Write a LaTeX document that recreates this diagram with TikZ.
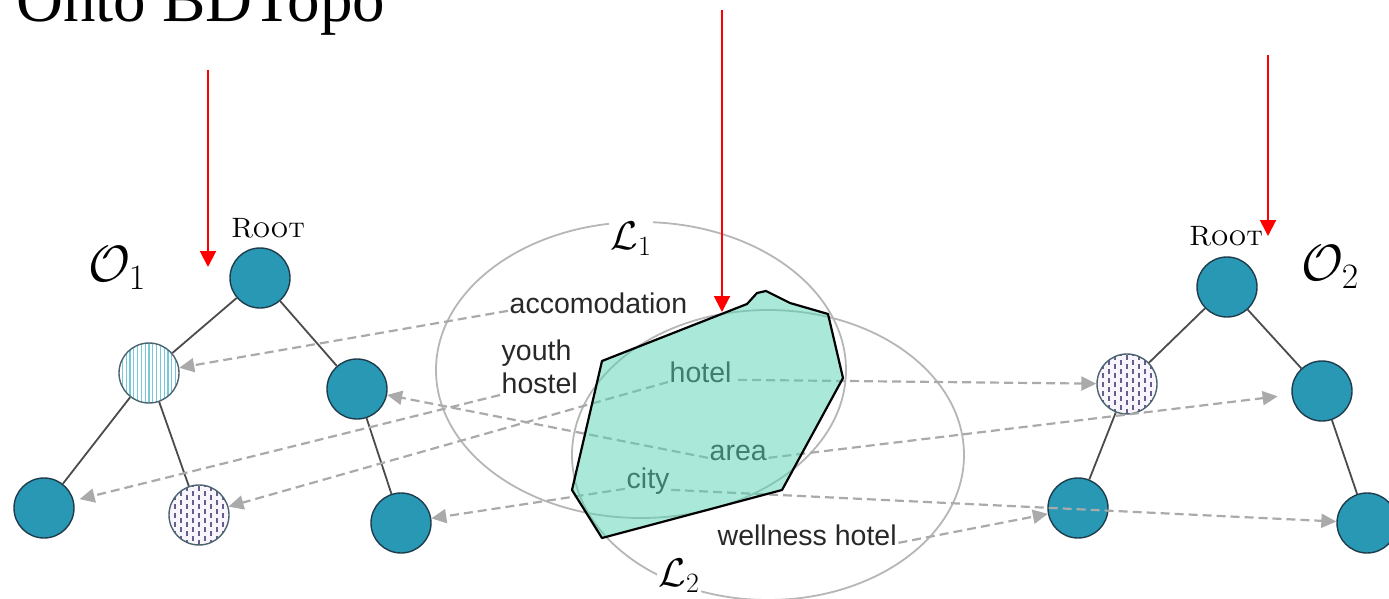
\RequirePackage{fix-cm}
\documentclass[tikz,border=0pt]{standalone}
\usepackage{fontspec}
\newfontfamily\termfont{Liberation Sans}
\newfontfamily\headfont{Liberation Serif}
\usetikzlibrary{arrows.meta}

\definecolor{nodeteal}{RGB}{41,152,181}
\definecolor{nodeedge}{RGB}{30,60,75}
\definecolor{treeline}{RGB}{75,75,75}
\definecolor{mapgray}{RGB}{170,170,170}
\definecolor{ringgray}{RGB}{182,182,182}
\definecolor{hatchblue}{RGB}{120,200,220}
\definecolor{dotpurple}{RGB}{100,95,140}
\definecolor{lavender}{RGB}{248,245,252}
\definecolor{regionfill}{RGB}{85,212,180}
\definecolor{termtext}{RGB}{40,40,40}

\tikzset{
  concept/.style={circle, minimum size=60pt, inner sep=0pt, draw=nodeedge,
    line width=1.4pt, fill=nodeteal},
  striped/.style={concept, fill=white, draw=nodeedge!80,
    path picture={
      \foreach \k in {-8,...,8}
        \draw[hatchblue, line width=1.2pt]
          ([xshift=\k*3.8pt]path picture bounding box.south) --
          ([xshift=\k*3.8pt]path picture bounding box.north);
    }},
  speckled/.style={concept, fill=lavender, draw=nodeedge!80,
    path picture={
      \foreach \k in {-6,-4,...,6}
        \draw[dotpurple, line width=1.2pt, dash pattern=on 5pt off 4pt]
          ([xshift=\k*6pt]path picture bounding box.south) --
          ([xshift=\k*6pt]path picture bounding box.north);
      \foreach \k in {-5,-3,...,5}
        \draw[dotpurple, line width=1.2pt, dash pattern=on 5pt off 4pt, dash phase=4.5pt]
          ([xshift=\k*6pt]path picture bounding box.south) --
          ([xshift=\k*6pt]path picture bounding box.north);
    }},
  treeedge/.style={treeline, line width=1.8pt},
  ring/.style={ringgray, line width=1.8pt},
  mapping/.style={mapgray, line width=2.2pt, dash pattern=on 9pt off 5pt,
    -{Triangle[length=15pt,width=14pt]}},
  pointer/.style={red, line width=2pt, -{Triangle[length=16pt,width=16pt]}},
  term/.style={font=\termfont\fontsize{28.5}{34}\selectfont, text=termtext,
    inner sep=1.5pt, anchor=base west},
  rootlabel/.style={font=\fontsize{28}{32}\selectfont, inner sep=0pt, anchor=base},
  setlabel/.style={font=\fontsize{40}{44}\selectfont, fill=white, inner sep=2pt},
  ontolabel/.style={font=\fontsize{51}{56}\selectfont, inner sep=0pt},
}

\begin{document}
\begin{tikzpicture}[x=1pt,y=-1pt]
\useasboundingbox (0,0) rectangle (1389,599);

% heading
\node[anchor=base west, inner sep=0pt, font=\headfont\fontsize{65}{72}\selectfont]
  (heading) at (16,22) {Onto BDTopo};

% the two lexicons
\draw[ring] (641,370) ellipse [x radius=205, y radius=148];
\draw[ring] (768,455) ellipse [x radius=196, y radius=145];
\node[setlabel] (lexA) at (631,239) {$\mathcal{L}_1$};
\node[setlabel] (lexB) at (679,576) {$\mathcal{L}_2$};

% ontology O1
\node[concept]  (o1root) at (260,278) {};
\node[striped]  (o1l)    at (149,373) {};
\node[concept]  (o1r)    at (357,389) {};
\node[concept]  (o1bl)   at (44,508)  {};
\node[speckled] (o1bm)   at (199,515) {};
\node[concept]  (o1br)   at (401,523) {};
\draw[treeedge] (o1root) -- (o1l);
\draw[treeedge] (o1root) -- (o1r);
\draw[treeedge] (o1l) -- (o1bl);
\draw[treeedge] (o1l) -- (o1bm);
\draw[treeedge] (o1r) -- (o1br);
\node[rootlabel] (rootA) at (268,237) {\textsc{Root}};
\node[ontolabel] (ontA) at (117,268) {$\mathcal{O}_1$};

% ontology O2
\node[concept]  (o2root) at (1227,287) {};
\node[speckled] (o2l)    at (1127,384) {};
\node[concept]  (o2r)    at (1322,391) {};
\node[concept]  (o2bl)   at (1078,508) {};
\node[concept]  (o2br)   at (1367,523) {};
\draw[treeedge] (o2root) -- (o2l);
\draw[treeedge] (o2root) -- (o2r);
\draw[treeedge] (o2l) -- (o2bl);
\draw[treeedge] (o2r) -- (o2br);
\node[rootlabel] (rootB) at (1226,245) {\textsc{Root}};
\node[ontolabel] (ontB) at (1330,267) {$\mathcal{O}_2$};

% lexicon terms
\node[term] (acc)      at (508,313) {accomodation};
\node[term] (youth)    at (500,360) {youth};
\node[term] (hostel)   at (500,393) {hostel};
\node[term] (hotel)    at (668,382) {hotel};
\node[term] (area)     at (708,460) {area};
\node[term] (city)     at (625,488) {city};
\node[term] (wellness) at (716,545) {wellness hotel};

% term-to-concept mappings
\draw[mapping] (acc.mid west) -- (o1l);
\draw[mapping, shorten >=6pt] (hostel.south west) -- (o1bl);
\draw[mapping] (hotel.base west) -- (o1bm);
\draw[mapping] (area.mid west) -- (o1r);
\draw[mapping] ([yshift=-3pt]city.mid west) -- (o1br);
\draw[mapping] ([xshift=5pt]hotel.mid east) -- (o2l);
\draw[mapping, shorten >=14pt] (area.mid east) -- (o2r);
\draw[mapping] ([yshift=-4pt]city.mid east) -- (o2br);
\draw[mapping] (wellness.mid east) -- (o2bl);

% shared region
\draw[black, line width=2.2pt, line join=round, fill=regionfill, fill opacity=0.5]
  (602,361) -- (747,304) -- (757,293) -- (766,291) -- (790,303) -- (828,314)
  -- (843,378) -- (782,490) -- (602,538) -- (572,490) -- cycle;

% red markers
\coordinate (markA0) at (208,70);   \coordinate (markA1) at (208,267);
\coordinate (markB0) at (722,10);   \coordinate (markB1) at (722,312);
\coordinate (markC0) at (1268,55);  \coordinate (markC1) at (1268,236);
\draw[pointer] (markA0) -- (markA1);
\draw[pointer] (markB0) -- (markB1);
\draw[pointer] (markC0) -- (markC1);
\end{tikzpicture}
\end{document}
